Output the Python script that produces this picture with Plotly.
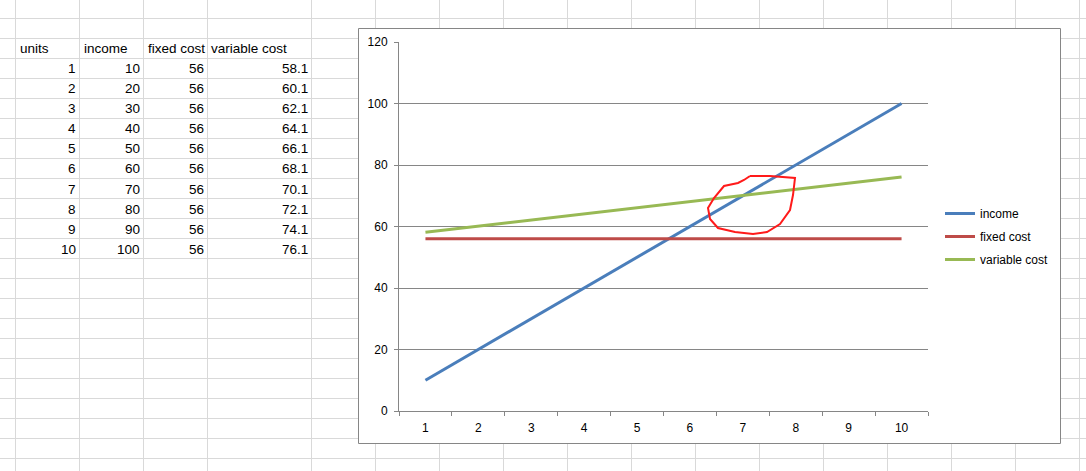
import plotly.graph_objects as go

# ---- data ----
units = [1, 2, 3, 4, 5, 6, 7, 8, 9, 10]
income = [10, 20, 30, 40, 50, 60, 70, 80, 90, 100]
fixed_cost = [56, 56, 56, 56, 56, 56, 56, 56, 56, 56]
variable_cost = [58.1, 60.1, 62.1, 64.1, 66.1, 68.1, 70.1, 72.1, 74.1, 76.1]
headers = ["units", "income", "fixed cost", "variable cost"]
y_ticks = [0, 20, 40, 60, 80, 100, 120]

# ---- layout geometry (pixels) ----
W, H = 1086, 471
col_lines = [15, 79, 143, 207] + list(range(311, 1086, 64))
row_lines = list(range(18, 471, 20))
PX = lambda x: x / W
PY = lambda y: 1 - y / H

FONT = "Liberation Sans, Arial, sans-serif"
GRID = "#d9d9d9"
AX = "#868686"

shapes = []
# spreadsheet gridlines
for x in col_lines:
    shapes.append(dict(type="line", xref="paper", yref="paper", layer="below",
                       x0=PX(x + 0.5), x1=PX(x + 0.5), y0=0, y1=1,
                       line=dict(color=GRID, width=1)))
for y in row_lines:
    shapes.append(dict(type="line", xref="paper", yref="paper", layer="below",
                       x0=0, x1=1, y0=PY(y + 0.5), y1=PY(y + 0.5),
                       line=dict(color=GRID, width=1)))
# chart area
shapes.append(dict(type="rect", xref="paper", yref="paper", layer="below",
                   x0=PX(358.5), x1=PX(1060.5), y0=PY(443.5), y1=PY(28.5),
                   fillcolor="white", line=dict(color=AX, width=1)))

# hand-drawn red scribble
scribble = [(750, 176), (770, 176), (795, 178), (793, 195), (790, 210), (780, 224),
            (767, 232), (753, 234), (735, 232), (718, 228), (710, 219), (708, 208),
            (714, 198), (724, 186), (738, 183), (744, 180), (750, 176)]
path = "M " + " L ".join(f"{PX(x):.5f},{PY(y):.5f}" for x, y in scribble)
shapes.append(dict(type="path", xref="paper", yref="paper", layer="above",
                   path=path, line=dict(color="#ff1a1a", width=2)))

# spreadsheet table text
annotations = []
table_cols = [units, income, fixed_cost, variable_cost]
header_left = [18, 82, 146, 209]
value_right = [78, 142, 206, 310]
row0 = 49
for j, h in enumerate(headers):
    annotations.append(dict(text=h, xref="paper", yref="paper", x=PX(header_left[j]),
                            y=PY(row0), xanchor="left", yanchor="middle", showarrow=False,
                            font=dict(family=FONT, size=13.5, color="#000")))
    for i, v in enumerate(table_cols[j]):
        annotations.append(dict(text=str(v), xref="paper", yref="paper", x=PX(value_right[j]),
                                y=PY(row0 + 20 * (i + 1)), xanchor="right", yanchor="middle",
                                showarrow=False, font=dict(family=FONT, size=13.5, color="#000")))

cats = [str(u) for u in units]
fig = go.Figure()
fig.add_trace(go.Scatter(x=cats, y=income, mode="lines", name="income", legendgroup="a",
                         line=dict(color="#4A7EBB", width=3)))
fig.add_trace(go.Scatter(x=cats, y=fixed_cost, mode="lines", name="fixed cost", legendgroup="b",
                         line=dict(color="#BE4B48", width=3)))
fig.add_trace(go.Scatter(x=cats, y=variable_cost, mode="lines", name="variable cost", legendgroup="c",
                         line=dict(color="#98B954", width=3)))

fig.update_layout(
    width=W, height=H,
    margin=dict(l=0, r=0, t=0, b=0, pad=0, autoexpand=False),
    paper_bgcolor="white", plot_bgcolor="rgba(0,0,0,0)",
    font=dict(family=FONT, size=12, color="#000"),
    shapes=shapes, annotations=annotations,
    xaxis=dict(domain=[PX(399), PX(928)], type="category", tickson="boundaries",
               range=[-0.5, len(cats) - 0.5], automargin=False,
               ticks="outside", ticklen=4, tickcolor=AX, showline=True, linecolor=AX,
               linewidth=1, showgrid=False, zeroline=False, ticklabelstandoff=6,
               tickfont=dict(size=12)),
    yaxis=dict(domain=[PY(411), PY(42)], range=[0, 120], tickvals=y_ticks, automargin=False,
               ticks="outside", ticklen=4, tickcolor=AX, showline=True, linecolor=AX,
               linewidth=1, showgrid=True, gridcolor=AX, gridwidth=1, zeroline=False,
               ticklabelstandoff=4, tickfont=dict(size=12)),
    showlegend=True,
    legend=dict(x=PX(940), y=PY(199), xanchor="left", yanchor="top",
                bgcolor="rgba(0,0,0,0)", borderwidth=0, traceorder="grouped",
                tracegroupgap=4, itemwidth=30, font=dict(size=12)),
)

fig.write_html("out.html", config={"displayModeBar": False},
               post_script="document.body.style.margin='0';")
